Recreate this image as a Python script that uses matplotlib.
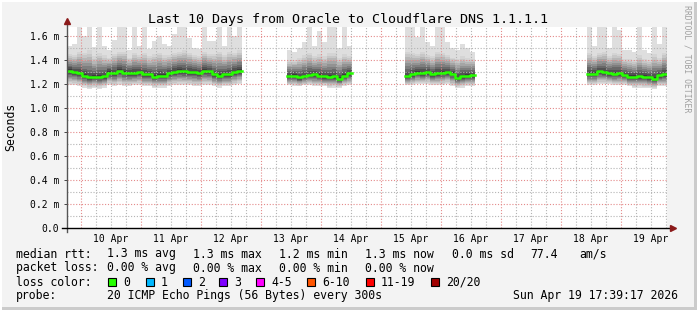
import numpy as np
import matplotlib
matplotlib.use("Agg")
import matplotlib.pyplot as plt
from matplotlib.patches import Rectangle

plt.rcParams["font.family"] = "DejaVu Sans Mono"

title = "Last 10 Days from Oracle to Cloudflare DNS 1.1.1.1"
label_days = [10, 11, 12, 13, 14, 15, 16, 17, 18, 19]
day_labels = ["10 Apr", "11 Apr", "12 Apr", "13 Apr", "14 Apr",
              "15 Apr", "16 Apr", "17 Apr", "18 Apr", "19 Apr"]
y_ticks = [0.0, 0.2, 0.4, 0.6, 0.8, 1.0, 1.2, 1.4, 1.6]
y_tick_labels = ["0.0", "0.2 m", "0.4 m", "0.6 m", "0.8 m",
                 "1.0 m", "1.2 m", "1.4 m", "1.6 m"]

# time in days of April, one value every 2 hours
step = 1 / 12
block_starts = [9.767, 13.433, 15.4, 18.433]

# median rtt (ms)
med_1 = [1.31, 1.30, 1.29, 1.27, 1.255, 1.26, 1.26, 1.265, 1.295, 1.29,
         1.31, 1.295, 1.29, 1.29, 1.30, 1.28, 1.28, 1.26, 1.27, 1.27,
         1.29, 1.30, 1.31, 1.305, 1.30, 1.30, 1.29, 1.31, 1.305, 1.28,
         1.27, 1.28, 1.28, 1.30, 1.31]
med_2 = [1.265, 1.27, 1.255, 1.265, 1.275, 1.28, 1.27, 1.265, 1.26, 1.265,
         1.245, 1.27, 1.29]
med_3 = [1.265, 1.28, 1.295, 1.29, 1.30, 1.28, 1.29, 1.295, 1.30, 1.285,
         1.25, 1.265, 1.27, 1.275]
med_4 = [1.285, 1.285, 1.305, 1.30, 1.29, 1.285, 1.29, 1.275, 1.26, 1.26,
         1.265, 1.26, 1.255, 1.245, 1.275, 1.28]

# slowest ping (top of the smoke)
hi_1 = [1.52, 1.53, 1.70, 1.60, 1.70, 1.51, 1.70, 1.52, 1.48, 1.57,
        1.70, 1.70, 1.48, 1.70, 1.52, 1.70, 1.49, 1.56, 1.60, 1.53,
        1.52, 1.62, 1.70, 1.70, 1.58, 1.50, 1.49, 1.70, 1.56, 1.56,
        1.70, 1.52, 1.70, 1.60, 1.70]
hi_2 = [1.48, 1.47, 1.50, 1.55, 1.70, 1.52, 1.64, 1.55, 1.70, 1.70,
        1.50, 1.70, 1.52]
hi_3 = [1.70, 1.70, 1.59, 1.70, 1.55, 1.52, 1.70, 1.70, 1.55, 1.50,
        1.48, 1.53, 1.50, 1.47]
hi_4 = [1.70, 1.52, 1.70, 1.70, 1.50, 1.70, 1.65, 1.48, 1.48, 1.47,
        1.70, 1.48, 1.46, 1.70, 1.53, 1.70]

# second slowest band
up_1 = [1.45, 1.44, 1.47, 1.46, 1.48, 1.43, 1.46, 1.44, 1.42, 1.45,
        1.47, 1.47, 1.42, 1.46, 1.44, 1.46, 1.43, 1.45, 1.46, 1.44,
        1.44, 1.46, 1.47, 1.48, 1.46, 1.44, 1.43, 1.47, 1.45, 1.45,
        1.47, 1.44, 1.47, 1.46, 1.48]
up_2 = [1.40, 1.40, 1.42, 1.44, 1.46, 1.43, 1.45, 1.43, 1.46, 1.46,
        1.42, 1.45, 1.43]
up_3 = [1.47, 1.46, 1.45, 1.47, 1.44, 1.43, 1.47, 1.46, 1.44, 1.42,
        1.41, 1.43, 1.42, 1.41]
up_4 = [1.46, 1.43, 1.46, 1.47, 1.43, 1.46, 1.45, 1.41, 1.41, 1.40,
        1.44, 1.41, 1.40, 1.45, 1.42, 1.46]

# fastest ping (bottom of the smoke)
lo_1 = [1.19, 1.19, 1.18, 1.17, 1.16, 1.17, 1.16, 1.17, 1.19, 1.18,
        1.19, 1.18, 1.18, 1.19, 1.19, 1.18, 1.18, 1.17, 1.17, 1.17,
        1.18, 1.19, 1.19, 1.19, 1.19, 1.18, 1.18, 1.19, 1.19, 1.18,
        1.17, 1.18, 1.18, 1.19, 1.20]
lo_2 = [1.19, 1.18, 1.18, 1.19, 1.19, 1.18, 1.18, 1.18, 1.17, 1.17,
        1.17, 1.18, 1.19]
lo_3 = [1.19, 1.19, 1.20, 1.20, 1.20, 1.19, 1.19, 1.19, 1.20, 1.18,
        1.17, 1.17, 1.18, 1.18]
lo_4 = [1.19, 1.19, 1.20, 1.20, 1.20, 1.19, 1.19, 1.19, 1.18, 1.17,
        1.17, 1.17, 1.17, 1.16, 1.18, 1.18]

loss_labels = ["0", "1", "2", "3", "4-5", "6-10", "11-19", "20/20"]
loss_colors = ["#26ff00", "#00b8ff", "#0059ff", "#7e00ff",
               "#ff00ff", "#ff5500", "#ff0000", "#a00000"]
loss_box_x = [108, 146, 183, 219, 256, 307, 366, 431]

W, H = 697, 310


def fx(px):
    return px / W


def fy(py):
    return 1 - py / H


def draw_block(ax, start, med, lo, up, hi):
    med, lo, up, hi = map(np.array, (med, lo, up, hi))
    x = start + np.arange(len(med) + 1) * step

    def ext(a):
        return np.append(a, a[-1])

    for i in range(10):
        if i == 0:
            top = hi
        else:
            top = up + (med + 0.012 - up) * (i - 1) / 8
        bot = lo + (med - 0.012 - lo) * i / 9
        g = 0.87 - 0.64 * (i / 9) ** 1.3
        ax.fill_between(x, ext(bot), ext(top), step="post",
                        color=(g, g, g), lw=0, zorder=2)
    ax.step(x, ext(med), where="post", color="#26ff00", lw=1.8, zorder=5)


fig = plt.figure(figsize=(W / 100, H / 100), dpi=100, facecolor="#f3f3f3")
ax = fig.add_axes([fx(67), 82 / H, 600 / W, 201 / H])
ax.set_facecolor("white")

x0 = 9.7667
ax.set_xlim(x0, x0 + 10)
ax.set_ylim(0, 1.675)

# grid: red at midnight / every 0.2, grey every 6 h / 0.1
major_c, minor_c = "#e48a8a", "#b4b4b4"
dots = (0, (1, 1.6))
for d in np.arange(9.75, 20, 0.25):
    c = major_c if abs(d - round(d)) < 1e-6 else minor_c
    ax.axvline(d, color=c, lw=0.8, ls=dots, zorder=3)
for v in np.arange(0.1, 1.7, 0.1):
    c = major_c if round(v * 10) % 2 == 0 else minor_c
    ax.axhline(v, color=c, lw=0.8, ls=dots, zorder=3)

blocks = [(med_1, lo_1, up_1, hi_1), (med_2, lo_2, up_2, hi_2),
          (med_3, lo_3, up_3, hi_3), (med_4, lo_4, up_4, hi_4)]
for start, (m, l, u, h) in zip(block_starts, blocks):
    draw_block(ax, start, m, l, u, h)

for s in ax.spines.values():
    s.set_visible(False)

ax.set_xticks([d + 0.5 for d in label_days], day_labels)
ax.set_yticks(y_ticks, y_tick_labels)
ax.tick_params(axis="x", length=0, pad=4, labelsize=7)
ax.tick_params(axis="y", length=2.5, width=0.7, pad=3, labelsize=7,
               color="#444444")

# axis lines with arrows
ax.plot([0, 0], [-0.02, 1.025], transform=ax.transAxes, color="#555555",
        lw=1.0, clip_on=False, zorder=6)
ax.plot([-0.008, 1.008], [0, 0], transform=ax.transAxes, color="black",
        lw=1.0, clip_on=False, zorder=6)
ax.plot([0], [1.03], marker="^", ms=4.5, color="#8b1a1a",
        transform=ax.transAxes, clip_on=False, zorder=7)
ax.plot([1.01], [0], marker=">", ms=4.5, color="#8b1a1a",
        transform=ax.transAxes, clip_on=False, zorder=7)

fig.text(fx(348), fy(19), title, ha="center", va="center", fontsize=9.6)
fig.text(fx(11), fy(127), "Seconds", rotation=90, ha="center",
         va="center", fontsize=8.3)
fig.text(fx(687), fy(59), "RRDTOOL / TOBI OETIKER", rotation=270,
         ha="center", va="center", fontsize=5.9, color="#a0a0a0")

# legend
fs = 8.3
rows = [254, 268, 282, 296]
fig.text(fx(16), fy(rows[0]), "median rtt:", va="center", fontsize=fs)
for xp, s in zip([107, 193, 279, 365, 452, 530, 579],
                 ["1.3 ms avg", "1.3 ms max", "1.2 ms min", "1.3 ms now",
                  "0.0 ms sd", "77.4", "am/s"]):
    fig.text(fx(xp), fy(rows[0]), s, va="center", fontsize=fs)
fig.text(fx(16), fy(rows[1]), "packet loss:", va="center", fontsize=fs)
for xp, s in zip([107, 193, 279, 365],
                 ["0.00 % avg", "0.00 % max", "0.00 % min", "0.00 % now"]):
    fig.text(fx(xp), fy(rows[1]), s, va="center", fontsize=fs)
fig.text(fx(16), fy(rows[2]), "loss color:", va="center", fontsize=fs)
for xp, lab, col in zip(loss_box_x, loss_labels, loss_colors):
    fig.patches.append(Rectangle((fx(xp), fy(rows[2] + 4)), 8 / W, 8 / H,
                                 transform=fig.transFigure, facecolor=col,
                                 edgecolor="black", lw=0.8))
    fig.text(fx(xp + 15), fy(rows[2]), lab, va="center", fontsize=fs)
fig.text(fx(16), fy(rows[3]), "probe:", va="center", fontsize=fs)
fig.text(fx(107), fy(rows[3]), "20 ICMP Echo Pings (56 Bytes) every 300s",
         va="center", fontsize=fs)
fig.text(fx(513), fy(rows[3]), "Sun Apr 19 17:39:17 2026", va="center",
         fontsize=fs)

# frame
fig.patches.append(Rectangle((fx(694), 0), 3 / W, 1, transform=fig.transFigure,
                             facecolor="#cbcbcb", lw=0))
fig.patches.append(Rectangle((0, 0), 1, 3 / H, transform=fig.transFigure,
                             facecolor="#cbcbcb", lw=0))
fig.patches.append(Rectangle((0, fy(2)), 1, 2 / H, transform=fig.transFigure,
                             facecolor="white", lw=0))
fig.patches.append(Rectangle((0, 0), 2 / W, 1, transform=fig.transFigure,
                             facecolor="white", lw=0))

fig.savefig("out.png", dpi=100, facecolor=fig.get_facecolor())
